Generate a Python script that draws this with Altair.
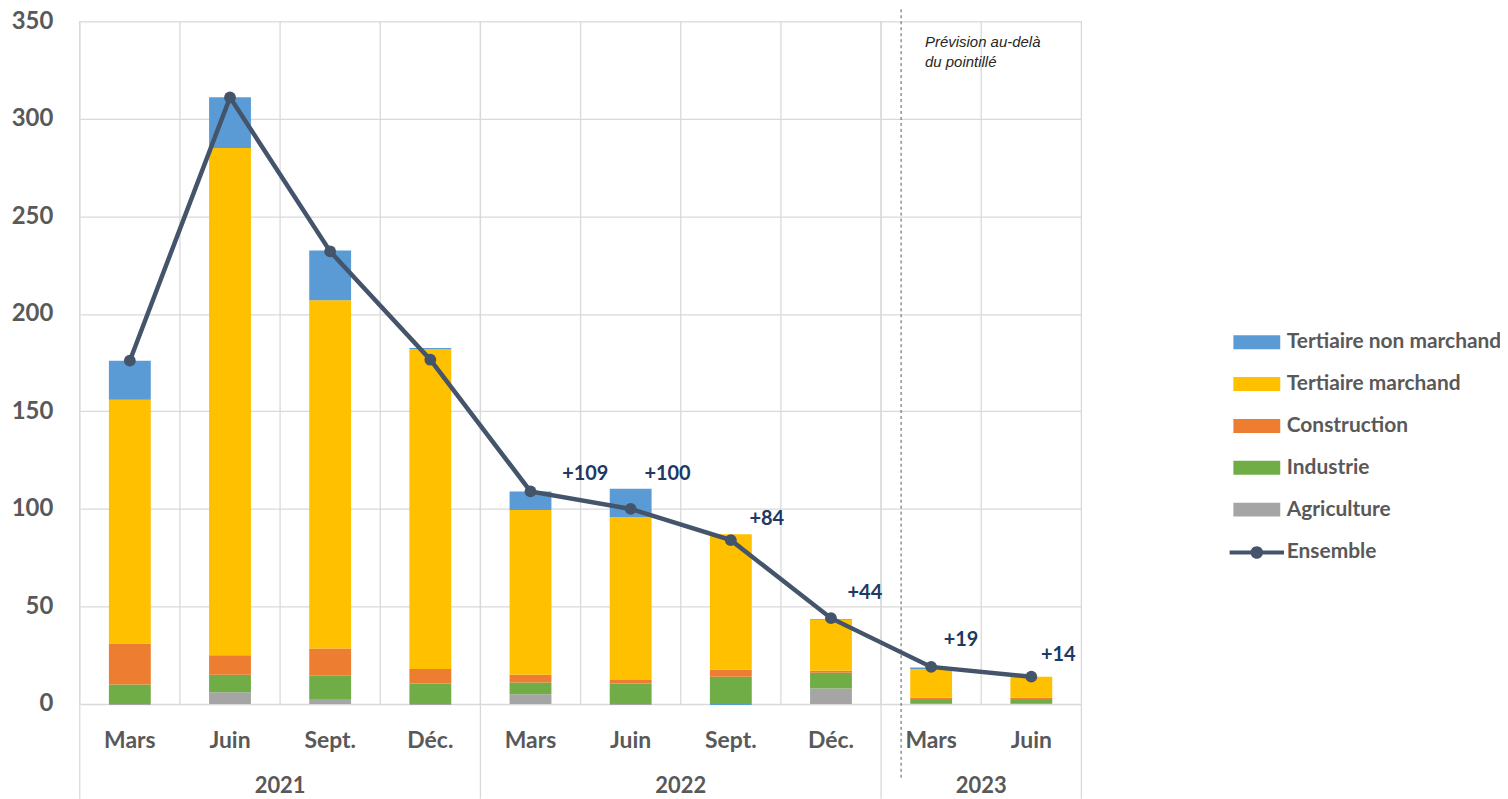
import altair as alt
import pandas as pd

# ---- data ----
years = ["2021", "2021", "2021", "2021", "2022", "2022", "2022", "2022", "2023", "2023"]
months = ["Mars", "Juin", "Sept.", "Déc.", "Mars", "Juin", "Sept.", "Déc.", "Mars", "Juin"]
sectors = ["Tertiaire non marchand", "Tertiaire marchand", "Construction", "Industrie", "Agriculture"]
agriculture = [-0.5, 6, 2.5, -0.5, 5, -0.5, 0, 8, 0.5, 0.5]
industrie = [10, 9, 12, 10.5, 6, 10.5, 14, 8, 1.5, 1.5]
construction = [21, 10, 14, 7.5, 4, 1.8, 3.5, 1, 1.2, 1.2]
tertiaire_marchand = [125, 260, 178.5, 164, 84.5, 83.5, 69.5, 26, 14.8, 10.8]
tertiaire_non_marchand = [20, 26, 25.5, 0.5, 9.5, 14.5, -0.5, 0.5, 0.7, 0]
ensemble = [176, 311, 232, 176.5, 109, 100, 84, 44, 19, 14]
point_labels = [None, None, None, None, "+109", "+100", "+84", "+44", "+19", "+14"]
note_lines = ["Prévision au-delà", "du pointillé"]

colors = ["#5b9bd5", "#ffc000", "#ed7d31", "#70ad47", "#a5a5a5"]
line_color = "#44546a"
label_color = "#203864"
grey_text = "#595959"
grid_color = "#d9d9d9"
FONT = "Lato"

keys = [f"{y}-{m}" for y, m in zip(years, months)]
series = {
    "Agriculture": agriculture,
    "Industrie": industrie,
    "Construction": construction,
    "Tertiaire marchand": tertiaire_marchand,
    "Tertiaire non marchand": tertiaire_non_marchand,
}
stack_order = ["Agriculture", "Industrie", "Construction", "Tertiaire marchand", "Tertiaire non marchand"]

rows = []
for s in stack_order:
    for k, v in zip(keys, series[s]):
        rows.append({"key": k, "sector": s, "value": v, "ord": stack_order.index(s)})
bars_df = pd.DataFrame(rows)
ens_df = pd.DataFrame({"key": keys, "ensemble": ensemble, "serie": "Ensemble", "label": point_labels})
cats_df = pd.DataFrame({"key": keys})

# year labels: centered on each year's group
uy = list(dict.fromkeys(years))
year_rows = []
sep_rows = []
for y in uy:
    ks = [k for k, yy in zip(keys, years) if yy == y]
    year_rows.append({"key": ks[len(ks) // 2], "year": y})
    sep_rows.append({"key": ks[0]})
year_df = pd.DataFrame(year_rows)
sep_df = pd.DataFrame(sep_rows)

W, H = 1005, 685
xscale = alt.Scale(domain=keys, paddingInner=0, paddingOuter=0)
xaxis = alt.Axis(title=None, domain=False, ticks=False, grid=False, labelAngle=0,
                 labelExpr="split(datum.label, '-')[1]", labelFont=FONT, labelFontSize=23,
                 labelFontWeight="bold", labelColor=grey_text, labelPadding=26)

def X(band=0.5):
    return alt.X("key:N", scale=xscale, sort=keys, bandPosition=band, axis=xaxis)

yscale = alt.Scale(domain=[0, 350], nice=False)
yaxis = alt.Axis(title=None, domain=False, ticks=False, grid=True, gridColor=grid_color,
                 gridWidth=1.3, values=list(range(0, 351, 50)), labelFont=FONT,
                 labelFontSize=24, labelFontWeight="bold", labelColor=grey_text,
                 labelPadding=27)

grid = alt.Chart(cats_df).mark_rule(color=grid_color, strokeWidth=1.3).encode(
    x=X(0.5), y=alt.Y(datum=0, scale=yscale, axis=yaxis), y2=alt.Y2(datum=0), opacity=alt.value(0)
)
# vertical grid rules at category starts
grid_lines = alt.Chart(cats_df).mark_rule(color=grid_color, strokeWidth=1.3).encode(
    x=X(0), y=alt.Y(datum=0, scale=yscale, axis=yaxis), y2=alt.Y2(datum=350)
)
# separators extending below the axis
seps = alt.Chart(sep_df).mark_rule(color=grid_color, strokeWidth=1.3).encode(
    x=X(0), y=alt.value(0), y2=alt.value(780)
)
right_edge = alt.Chart(cats_df.tail(1)).mark_rule(color=grid_color, strokeWidth=1.3).encode(
    x=X(1), y=alt.value(0), y2=alt.value(780)
)

rect_path = "M-1.679,-0.5H1.679V0.5H-1.679Z"
bars = alt.Chart(bars_df).mark_bar(size=42).encode(
    x=X(0.5),
    y=alt.Y("value:Q", stack="zero", scale=yscale, axis=yaxis),
    color=alt.Color("sector:N", scale=alt.Scale(domain=sectors, range=colors),
                    legend=alt.Legend(title=None, orient="none", legendX=1167, legendY=308,
                                      symbolType=rect_path, symbolSize=784, symbolStrokeWidth=0,
                                      labelFont=FONT, labelFontSize=21, labelFontWeight="bold",
                                      labelColor=grey_text, labelOffset=16, rowPadding=18,
                                      padding=0, labelLimit=400)),
    order=alt.Order("ord:Q", sort="ascending"),
)

line = alt.Chart(ens_df).mark_line(color=line_color, strokeWidth=4.5).encode(
    x=X(), y=alt.Y("ensemble:Q", scale=yscale, axis=yaxis)
)
ens_path = ("M-1.95,-0.15H1.95V0.15H-1.95Z "
            "M0.45,0A0.45,0.45 0 1,1 -0.45,0A0.45,0.45 0 1,1 0.45,0Z")
points = alt.Chart(ens_df).mark_point(filled=True, size=140, opacity=1).encode(
    x=X(), y=alt.Y("ensemble:Q", scale=yscale, axis=yaxis),
    fill=alt.Fill("serie:N", scale=alt.Scale(domain=["Ensemble"], range=[line_color]),
                  legend=alt.Legend(title=None, orient="none", legendX=1167, legendY=519,
                                    symbolType=ens_path, symbolSize=784, symbolStrokeWidth=0,
                                    symbolOpacity=1, labelFont=FONT, labelFontSize=21,
                                    labelFontWeight="bold", labelColor=grey_text,
                                    labelOffset=16, padding=0)),
)

# point labels, each with its own offset
label_offsets = [(0, 0)] * 4 + [(55, -17), (37, -35), (36, -21), (34, -25), (30, -27), (27, -22)]
label_layers = []
for i, (k, lab) in enumerate(zip(keys, point_labels)):
    if lab is None:
        continue
    dx, dy = label_offsets[i]
    label_layers.append(
        alt.Chart(ens_df.iloc[[i]]).mark_text(font=FONT, fontSize=20, fontWeight="bold",
                                              color=label_color, dx=dx, dy=dy).encode(
            x=X(), y=alt.Y("ensemble:Q", scale=yscale, axis=yaxis), text="label:N")
    )

year_text = alt.Chart(year_df).mark_text(font=FONT, fontSize=22, fontWeight="bold",
                                         color=grey_text, baseline="middle").encode(
    x=X(0), y=alt.value(767), text="year:N"
)

forecast_key = keys[years.index("2023")]
dash_df = pd.DataFrame({"key": [forecast_key], "note": [note_lines]})
dash = alt.Chart(dash_df).mark_rule(color=grey_text, strokeWidth=1, strokeDash=[3, 3]).encode(
    x=X(0.2), y=alt.value(-12), y2=alt.value(762)
)
note = alt.Chart(dash_df).mark_text(font="Liberation Sans", fontSize=15, fontStyle="italic",
                                    color="#262626", align="left", baseline="top",
                                    lineHeight=20, dx=24).encode(
    x=X(0.2), y=alt.value(14), text="note"
)

chart = alt.layer(grid, grid_lines, seps, right_edge, bars, line, points, *label_layers,
                  year_text, dash, note).properties(
    width=W, height=H,
    autosize=alt.AutoSizeParams(type="none"),
    padding={"left": 72, "top": 12, "right": 420, "bottom": 94},
).configure_view(stroke=None).resolve_legend(color="independent", fill="independent")

chart.save("out.html", embed_options={"renderer": "svg", "actions": False})
